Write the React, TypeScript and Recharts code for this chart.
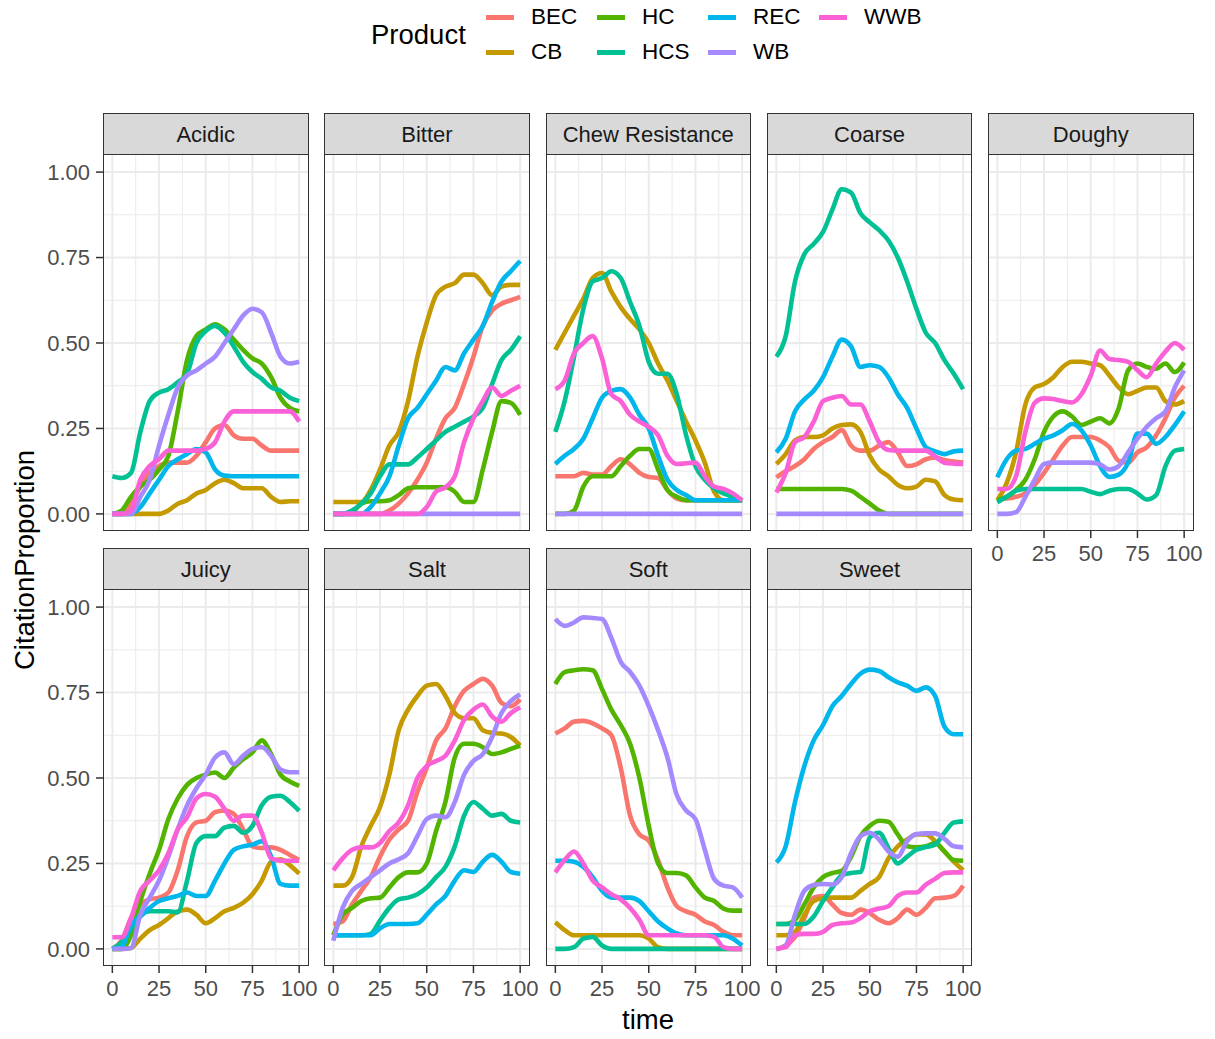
import { CartesianGrid, Line, LineChart, XAxis, YAxis } from 'recharts'

const TIME = [0, 5, 10, 15, 20, 25, 30, 35, 40, 45, 50, 55, 60, 65, 70, 75, 80, 85, 90, 95, 100]
const PRODUCTS = ['BEC', 'CB', 'HC', 'HCS', 'REC', 'WB', 'WWB']
const X_TICKS = [0, 25, 50, 75, 100]
const Y_TICKS = [0, 0.25, 0.5, 0.75, 1]
const X_MINOR = [12.5, 37.5, 62.5, 87.5]
const Y_MINOR = [0.125, 0.375, 0.625, 0.875]

// ggplot's default hue palette for 7 levels
const PRODUCT_COLOR: Record<string, string> = {
  BEC: '#F8766D',
  CB: '#C49A00',
  HC: '#53B400',
  HCS: '#00C094',
  REC: '#00B6EB',
  WB: '#A58AFF',
  WWB: '#FB61D7',
}

const ZERO = TIME.map(() => 0)

const ACIDIC: Record<string, number[]> = {
  BEC: [0, 0, 0.03, 0.08, 0.12, 0.14, 0.15, 0.15, 0.15, 0.17, 0.21, 0.25, 0.26, 0.23, 0.22, 0.22, 0.2, 0.185, 0.185, 0.185, 0.185],
  CB: [0, 0, 0, 0, 0, 0, 0.01, 0.03, 0.04, 0.06, 0.07, 0.09, 0.1, 0.09, 0.075, 0.075, 0.075, 0.05, 0.035, 0.037, 0.037],
  HC: [0, 0.01, 0.05, 0.08, 0.1, 0.13, 0.17, 0.3, 0.45, 0.52, 0.54, 0.555, 0.54, 0.51, 0.48, 0.455, 0.44, 0.4, 0.34, 0.31, 0.3],
  HCS: [0.11, 0.105, 0.12, 0.24, 0.33, 0.355, 0.365, 0.385, 0.41, 0.5, 0.535, 0.55, 0.53, 0.49, 0.445, 0.415, 0.395, 0.37, 0.36, 0.34, 0.33],
  REC: [0, 0, 0, 0.02, 0.06, 0.1, 0.14, 0.16, 0.175, 0.19, 0.18, 0.13, 0.112, 0.11, 0.11, 0.11, 0.11, 0.11, 0.11, 0.11, 0.11],
  WB: [0, 0, 0, 0.05, 0.1, 0.2, 0.29, 0.37, 0.405, 0.42, 0.44, 0.46, 0.5, 0.54, 0.58, 0.6, 0.59, 0.53, 0.46, 0.44, 0.445],
  WWB: [0, 0, 0.01, 0.1, 0.14, 0.16, 0.185, 0.185, 0.185, 0.185, 0.19, 0.21, 0.27, 0.3, 0.3, 0.3, 0.3, 0.3, 0.3, 0.3, 0.27],
}

const BITTER: Record<string, number[]> = {
  BEC: [0, 0, 0, 0, 0, 0, 0.01, 0.03, 0.06, 0.1, 0.15, 0.22, 0.28, 0.31, 0.38, 0.46, 0.55, 0.595, 0.615, 0.625, 0.635],
  CB: [0.035, 0.035, 0.035, 0.035, 0.07, 0.13, 0.2, 0.24, 0.33, 0.46, 0.56, 0.64, 0.665, 0.675, 0.7, 0.7, 0.675, 0.64, 0.665, 0.67, 0.67],
  HC: [0, 0, 0.005, 0.03, 0.037, 0.037, 0.04, 0.055, 0.075, 0.078, 0.078, 0.078, 0.078, 0.065, 0.035, 0.035, 0.13, 0.24, 0.33, 0.325, 0.29],
  HCS: [0, 0, 0.01, 0.03, 0.06, 0.11, 0.145, 0.145, 0.145, 0.165, 0.19, 0.215, 0.24, 0.255, 0.27, 0.285, 0.31, 0.38, 0.45, 0.48, 0.52],
  REC: [0, 0, 0, 0, 0.02, 0.06, 0.11, 0.2, 0.28, 0.31, 0.35, 0.39, 0.43, 0.42, 0.47, 0.51, 0.55, 0.62, 0.68, 0.71, 0.74],
  WB: ZERO,
  WWB: [0, 0, 0, 0, 0, 0, 0, 0, 0, 0, 0.02, 0.065, 0.078, 0.11, 0.21, 0.28, 0.33, 0.37, 0.345, 0.36, 0.375],
}

const CHEW: Record<string, number[]> = {
  BEC: [0.11, 0.11, 0.11, 0.12, 0.115, 0.115, 0.14, 0.16, 0.145, 0.12, 0.108, 0.105, 0.07, 0.045, 0.04, 0.04, 0.04, 0.04, 0.04, 0.04, 0.04],
  CB: [0.48, 0.53, 0.58, 0.63, 0.69, 0.705, 0.65, 0.605, 0.57, 0.54, 0.5, 0.44, 0.39, 0.33, 0.27, 0.215, 0.15, 0.065, 0.04, 0.04, 0.04],
  HC: [0, 0, 0.01, 0.08, 0.11, 0.11, 0.11, 0.14, 0.17, 0.19, 0.19, 0.13, 0.07, 0.05, 0.04, 0.04, 0.04, 0.04, 0.04, 0.04, 0.04],
  HCS: [0.24, 0.33, 0.46, 0.6, 0.68, 0.69, 0.71, 0.69, 0.62, 0.55, 0.445, 0.41, 0.41, 0.35, 0.23, 0.14, 0.1, 0.075, 0.06, 0.05, 0.04],
  REC: [0.146, 0.17, 0.19, 0.22, 0.28, 0.34, 0.36, 0.365, 0.34, 0.29, 0.25, 0.17, 0.1, 0.07, 0.055, 0.04, 0.04, 0.04, 0.04, 0.04, 0.04],
  WB: ZERO,
  WWB: [0.365, 0.39, 0.47, 0.5, 0.52, 0.455, 0.35, 0.33, 0.29, 0.27, 0.255, 0.23, 0.17, 0.146, 0.148, 0.15, 0.11, 0.08, 0.073, 0.06, 0.04],
}

const COARSE: Record<string, number[]> = {
  BEC: [0.107, 0.125, 0.14, 0.16, 0.19, 0.21, 0.225, 0.245, 0.2, 0.185, 0.185, 0.2, 0.21, 0.18, 0.14, 0.145, 0.16, 0.165, 0.158, 0.153, 0.15],
  CB: [0.146, 0.175, 0.215, 0.225, 0.225, 0.23, 0.25, 0.26, 0.262, 0.24, 0.17, 0.13, 0.11, 0.085, 0.075, 0.08, 0.1, 0.095, 0.055, 0.042, 0.04],
  HC: [0.073, 0.073, 0.073, 0.073, 0.073, 0.073, 0.073, 0.073, 0.068, 0.05, 0.03, 0.01, 0, 0, 0, 0, 0, 0, 0, 0, 0],
  HCS: [0.46, 0.52, 0.68, 0.76, 0.79, 0.825, 0.89, 0.95, 0.94, 0.88, 0.853, 0.83, 0.8, 0.75, 0.68, 0.6, 0.53, 0.5, 0.45, 0.41, 0.365],
  REC: [0.18, 0.22, 0.3, 0.335, 0.36, 0.4, 0.46, 0.51, 0.49, 0.43, 0.435, 0.43, 0.4, 0.35, 0.31, 0.25, 0.195, 0.183, 0.175, 0.183, 0.185],
  WB: ZERO,
  WWB: [0.063, 0.12, 0.21, 0.225, 0.27, 0.33, 0.34, 0.345, 0.32, 0.32, 0.27, 0.21, 0.187, 0.185, 0.185, 0.185, 0.185, 0.168, 0.15, 0.147, 0.146],
}

const DOUGHY: Record<string, number[]> = {
  BEC: [0.044, 0.045, 0.05, 0.06, 0.085, 0.12, 0.16, 0.2, 0.225, 0.225, 0.225, 0.215, 0.195, 0.155, 0.15, 0.18, 0.195, 0.23, 0.28, 0.34, 0.375],
  CB: [0.04, 0.09, 0.18, 0.32, 0.37, 0.38, 0.4, 0.43, 0.445, 0.445, 0.44, 0.435, 0.405, 0.37, 0.35, 0.36, 0.37, 0.37, 0.33, 0.32, 0.33],
  HC: [0.04, 0.05, 0.07, 0.1, 0.16, 0.24, 0.285, 0.3, 0.285, 0.26, 0.27, 0.28, 0.265, 0.31, 0.42, 0.44, 0.43, 0.425, 0.44, 0.415, 0.443],
  HCS: [0.034, 0.05, 0.068, 0.073, 0.073, 0.073, 0.073, 0.073, 0.073, 0.073, 0.065, 0.058, 0.068, 0.073, 0.073, 0.06, 0.042, 0.055, 0.14, 0.185, 0.19],
  REC: [0.107, 0.16, 0.185, 0.19, 0.205, 0.22, 0.23, 0.245, 0.263, 0.245, 0.2, 0.14, 0.108, 0.115, 0.15, 0.235, 0.235, 0.205, 0.225, 0.26, 0.3],
  WB: [0, 0, 0.005, 0.05, 0.1, 0.146, 0.15, 0.15, 0.15, 0.15, 0.15, 0.145, 0.13, 0.14, 0.18, 0.22, 0.255, 0.28, 0.3, 0.37, 0.42],
  WWB: [0.073, 0.073, 0.11, 0.24, 0.325, 0.338, 0.336, 0.33, 0.326, 0.35, 0.405, 0.478, 0.453, 0.45, 0.445, 0.42, 0.4, 0.44, 0.475, 0.5, 0.48],
}

const JUICY: Record<string, number[]> = {
  BEC: [0, 0.025, 0.09, 0.13, 0.145, 0.15, 0.165, 0.23, 0.33, 0.37, 0.375, 0.4, 0.405, 0.395, 0.35, 0.3, 0.295, 0.297, 0.29, 0.275, 0.26],
  CB: [0, 0, 0.003, 0.03, 0.055, 0.07, 0.09, 0.11, 0.115, 0.1, 0.075, 0.09, 0.11, 0.12, 0.135, 0.16, 0.2, 0.255, 0.262, 0.245, 0.22],
  HC: [0, 0, 0.04, 0.14, 0.22, 0.29, 0.38, 0.44, 0.48, 0.5, 0.51, 0.516, 0.5, 0.53, 0.555, 0.575, 0.61, 0.57, 0.51, 0.49, 0.477],
  HCS: [0, 0.02, 0.06, 0.1, 0.11, 0.11, 0.11, 0.107, 0.2, 0.31, 0.33, 0.33, 0.355, 0.36, 0.34, 0.36, 0.42, 0.445, 0.448, 0.43, 0.404],
  REC: [0, 0.005, 0.07, 0.095, 0.12, 0.14, 0.148, 0.155, 0.165, 0.155, 0.155, 0.2, 0.25, 0.29, 0.3, 0.305, 0.315, 0.27, 0.19, 0.185, 0.185],
  WB: [0, 0, 0.003, 0.1, 0.15, 0.2, 0.27, 0.35, 0.42, 0.47, 0.51, 0.56, 0.575, 0.54, 0.565, 0.585, 0.59, 0.565, 0.525, 0.517, 0.517],
  WWB: [0.034, 0.034, 0.09, 0.17, 0.2, 0.23, 0.28, 0.35, 0.385, 0.44, 0.453, 0.445, 0.41, 0.375, 0.39, 0.39, 0.34, 0.265, 0.258, 0.258, 0.258],
}

const SALT: Record<string, number[]> = {
  BEC: [0.073, 0.08, 0.13, 0.17, 0.21, 0.27, 0.32, 0.35, 0.375, 0.46, 0.53, 0.61, 0.645, 0.71, 0.755, 0.775, 0.79, 0.77, 0.72, 0.71, 0.73],
  CB: [0.185, 0.185, 0.21, 0.3, 0.36, 0.415, 0.51, 0.64, 0.7, 0.74, 0.77, 0.775, 0.74, 0.69, 0.675, 0.675, 0.64, 0.632, 0.63, 0.62, 0.595],
  HC: [0.04, 0.1, 0.12, 0.14, 0.148, 0.15, 0.18, 0.21, 0.224, 0.224, 0.25, 0.345, 0.43, 0.56, 0.6, 0.6, 0.59, 0.57, 0.575, 0.585, 0.595],
  HCS: [0.04, 0.04, 0.04, 0.04, 0.044, 0.083, 0.12, 0.145, 0.15, 0.16, 0.18, 0.21, 0.24, 0.3, 0.39, 0.43, 0.41, 0.39, 0.395, 0.375, 0.37],
  REC: [0.04, 0.04, 0.04, 0.04, 0.04, 0.06, 0.073, 0.073, 0.073, 0.075, 0.1, 0.13, 0.155, 0.2, 0.23, 0.225, 0.255, 0.275, 0.255, 0.225, 0.22],
  WB: [0.024, 0.12, 0.17, 0.19, 0.21, 0.23, 0.25, 0.262, 0.28, 0.33, 0.38, 0.39, 0.385, 0.43, 0.51, 0.55, 0.57, 0.62, 0.69, 0.725, 0.745],
  WWB: [0.23, 0.265, 0.29, 0.297, 0.297, 0.31, 0.345, 0.37, 0.42, 0.5, 0.535, 0.55, 0.565, 0.61, 0.67, 0.7, 0.715, 0.68, 0.665, 0.69, 0.707],
}

const SOFT: Record<string, number[]> = {
  BEC: [0.63, 0.645, 0.665, 0.667, 0.66, 0.645, 0.625, 0.53, 0.39, 0.335, 0.317, 0.26, 0.18, 0.125, 0.11, 0.1, 0.08, 0.07, 0.05, 0.04, 0.04],
  CB: [0.078, 0.055, 0.04, 0.04, 0.04, 0.04, 0.04, 0.04, 0.04, 0.04, 0.03, 0.005, 0, 0, 0, 0, 0, 0, 0, 0, 0],
  HC: [0.775, 0.81, 0.815, 0.818, 0.815, 0.76, 0.7, 0.655, 0.6, 0.5, 0.36, 0.25, 0.222, 0.222, 0.215, 0.18, 0.15, 0.14, 0.118, 0.112, 0.112],
  HCS: [0, 0, 0.005, 0.03, 0.035, 0.01, 0, 0, 0, 0, 0, 0, 0, 0, 0, 0, 0, 0, 0, 0, 0],
  REC: [0.258, 0.258, 0.255, 0.24, 0.21, 0.17, 0.15, 0.15, 0.15, 0.14, 0.11, 0.08, 0.06, 0.045, 0.04, 0.04, 0.04, 0.04, 0.04, 0.03, 0.01],
  WB: [0.965, 0.945, 0.955, 0.97, 0.968, 0.965, 0.91, 0.84, 0.81, 0.77, 0.71, 0.64, 0.56, 0.45, 0.405, 0.38, 0.29, 0.205, 0.185, 0.18, 0.15],
  WWB: [0.224, 0.26, 0.285, 0.25, 0.2, 0.18, 0.16, 0.145, 0.12, 0.085, 0.04, 0.04, 0.04, 0.04, 0.04, 0.04, 0.04, 0.035, 0.005, 0, 0],
}

const SWEET: Record<string, number[]> = {
  BEC: [0, 0.01, 0.035, 0.09, 0.15, 0.155, 0.13, 0.105, 0.1, 0.115, 0.105, 0.085, 0.075, 0.09, 0.115, 0.1, 0.12, 0.148, 0.15, 0.155, 0.185],
  CB: [0.04, 0.04, 0.05, 0.1, 0.14, 0.148, 0.15, 0.15, 0.15, 0.17, 0.19, 0.21, 0.265, 0.3, 0.32, 0.335, 0.335, 0.315, 0.285, 0.255, 0.23],
  HC: [0.073, 0.073, 0.085, 0.13, 0.18, 0.21, 0.222, 0.228, 0.27, 0.33, 0.36, 0.375, 0.372, 0.335, 0.3, 0.297, 0.3, 0.31, 0.285, 0.26, 0.258],
  HCS: [0.073, 0.073, 0.073, 0.073, 0.095, 0.14, 0.18, 0.215, 0.222, 0.225, 0.326, 0.34, 0.295, 0.25, 0.27, 0.29, 0.298, 0.305, 0.34, 0.37, 0.373],
  REC: [0.253, 0.3, 0.43, 0.535, 0.61, 0.655, 0.71, 0.74, 0.775, 0.805, 0.817, 0.813, 0.795, 0.78, 0.77, 0.755, 0.765, 0.74, 0.65, 0.628, 0.628],
  WB: [0, 0.01, 0.1, 0.17, 0.187, 0.19, 0.188, 0.21, 0.28, 0.33, 0.34, 0.32, 0.285, 0.27, 0.315, 0.336, 0.338, 0.338, 0.322, 0.3, 0.297],
  WWB: [0, 0.005, 0.04, 0.044, 0.044, 0.05, 0.07, 0.075, 0.077, 0.09, 0.11, 0.118, 0.125, 0.155, 0.165, 0.165, 0.188, 0.205, 0.222, 0.224, 0.224],
}

const PANELS = [
  { title: 'Acidic', values: ACIDIC },
  { title: 'Bitter', values: BITTER },
  { title: 'Chew Resistance', values: CHEW },
  { title: 'Coarse', values: COARSE },
  { title: 'Doughy', values: DOUGHY },
  { title: 'Juicy', values: JUICY },
  { title: 'Salt', values: SALT },
  { title: 'Soft', values: SOFT },
  { title: 'Sweet', values: SWEET },
]

const FONT = '"Liberation Sans", Arial, Helvetica, sans-serif'
const PANEL_X0 = 103
const PANEL_STEP = 221.25
const PANEL_W = 205.5
const STRIP_H = 42
const PLOT_H = 376
const ROW_TOP = [113, 548]
const Y_AXIS_W = 100
const X_AXIS_H = 44
const PAD_R = 30

const tickStyle = { fill: '#4D4D4D', fontSize: 22, fontFamily: FONT }
const tickLine = { stroke: '#333333', strokeWidth: 1.5 }

function Facet({ title, values, index }: { title: string; values: Record<string, number[]>; index: number }) {
  const row = index < 5 ? 0 : 1
  const col = row === 0 ? index : index - 5
  const showY = col === 0
  const showX = row === 1 || index === 4
  const left = PANEL_X0 + col * PANEL_STEP
  const stripTop = ROW_TOP[row]
  const plotTop = stripTop + STRIP_H
  const yw = showY ? Y_AXIS_W : 0

  const rows = TIME.map((t, i) => {
    const r: Record<string, number> = { time: t }
    PRODUCTS.forEach((p) => {
      r[p] = values[p][i]
    })
    return r
  })

  return (
    <>
      <div
        style={{
          position: 'absolute',
          left,
          top: stripTop,
          width: PANEL_W,
          height: STRIP_H,
          boxSizing: 'border-box',
          background: '#D9D9D9',
          border: '1.5px solid #333333',
          color: '#1A1A1A',
          fontFamily: FONT,
          fontSize: 22,
          lineHeight: `${STRIP_H}px`,
          textAlign: 'center',
        }}
      >
        {title}
      </div>
      <div style={{ position: 'absolute', left: left - yw, top: plotTop }}>
        <LineChart
          width={PANEL_W + yw + PAD_R}
          height={PLOT_H + (showX ? X_AXIS_H : 0)}
          data={rows}
          margin={{ top: 0, right: PAD_R, bottom: 0, left: 0 }}
        >
          <CartesianGrid horizontalValues={Y_MINOR} verticalValues={X_MINOR} stroke="#EBEBEB" strokeWidth={1} />
          <CartesianGrid horizontalValues={Y_TICKS} verticalValues={X_TICKS} stroke="#EBEBEB" strokeWidth={2} />
          <XAxis
            type="number"
            dataKey="time"
            domain={[-5, 105]}
            ticks={X_TICKS}
            interval={0}
            allowDataOverflow
            hide={!showX}
            height={X_AXIS_H}
            axisLine={false}
            tickLine={tickLine}
            tickSize={7}
            tickMargin={7}
            tick={tickStyle}
          />
          <YAxis
            type="number"
            domain={[-0.05, 1.05]}
            ticks={Y_TICKS}
            interval={0}
            allowDataOverflow
            hide={!showY}
            width={yw}
            axisLine={false}
            tickLine={tickLine}
            tickSize={7}
            tickMargin={6}
            tick={tickStyle}
            tickFormatter={(v: number) => v.toFixed(2)}
          />
          {PRODUCTS.map((p) => (
            <Line
              key={p}
              dataKey={p}
              type="monotone"
              stroke={PRODUCT_COLOR[p]}
              strokeWidth={4.6}
              dot={false}
              activeDot={false}
              isAnimationActive={false}
            />
          ))}
        </LineChart>
      </div>
      <div
        style={{
          position: 'absolute',
          left,
          top: plotTop - 1,
          width: PANEL_W,
          height: PLOT_H + 1,
          boxSizing: 'border-box',
          border: '1.5px solid #333333',
          pointerEvents: 'none',
        }}
      />
    </>
  )
}

const LEGEND_ITEMS = [
  { name: 'BEC', x: 486, y: 17 },
  { name: 'CB', x: 486, y: 52 },
  { name: 'HC', x: 597, y: 17 },
  { name: 'HCS', x: 597, y: 52 },
  { name: 'REC', x: 708, y: 17 },
  { name: 'WB', x: 708, y: 52 },
  { name: 'WWB', x: 819, y: 17 },
]

function ProductLegend() {
  return (
    <>
      <div
        style={{
          position: 'absolute',
          left: 371,
          top: 35,
          transform: 'translateY(-50%)',
          fontFamily: FONT,
          fontSize: 27.5,
          color: '#000',
          whiteSpace: 'nowrap',
        }}
      >
        Product
      </div>
      {LEGEND_ITEMS.map((item) => (
        <div key={item.name}>
          <div
            style={{
              position: 'absolute',
              left: item.x,
              top: item.y - 2.5,
              width: 28,
              height: 5,
              background: PRODUCT_COLOR[item.name],
            }}
          />
          <div
            style={{
              position: 'absolute',
              left: item.x + 45,
              top: item.y,
              transform: 'translateY(-50%)',
              fontFamily: FONT,
              fontSize: 22.5,
              color: '#000',
              whiteSpace: 'nowrap',
            }}
          >
            {item.name}
          </div>
        </div>
      ))}
    </>
  )
}

export default function App() {
  return (
    <div
      style={{
        position: 'absolute',
        left: 0,
        top: 0,
        width: 1215,
        height: 1039,
        background: '#FFFFFF',
        overflow: 'hidden',
      }}
    >
      <ProductLegend />
      {PANELS.map((panel, i) => (
        <Facet key={panel.title} title={panel.title} values={panel.values} index={i} />
      ))}
      <div
        style={{
          position: 'absolute',
          left: 648,
          top: 1020,
          transform: 'translate(-50%, -50%)',
          fontFamily: FONT,
          fontSize: 27.5,
          color: '#000',
        }}
      >
        time
      </div>
      <div
        style={{
          position: 'absolute',
          left: 25,
          top: 560,
          transform: 'translate(-50%, -50%) rotate(-90deg)',
          fontFamily: FONT,
          fontSize: 27.5,
          color: '#000',
          whiteSpace: 'nowrap',
        }}
      >
        CitationProportion
      </div>
    </div>
  )
}
